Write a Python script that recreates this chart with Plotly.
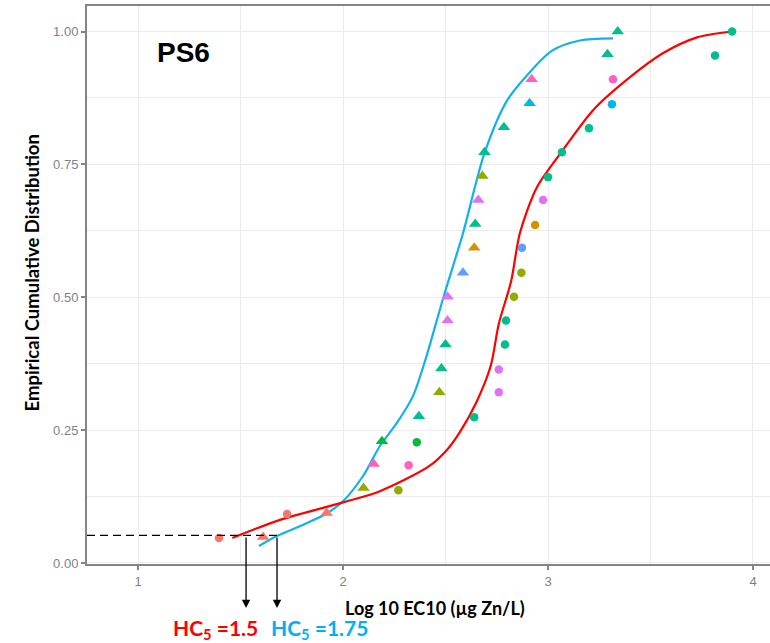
import plotly.graph_objects as go

# ---------------- data ----------------
palette = {
    "A": "#F8766D", "B": "#D39200", "C": "#93AA00", "D": "#00BA38", "E": "#00BF8C",
    "F": "#00B9E3", "G": "#619CFF", "H": "#DE72F5", "I": "#FF61C3",
}

tri_x = [1.61, 1.92, 2.10, 2.15, 2.19, 2.37, 2.47, 2.48, 2.50, 2.51, 2.51,
         2.585, 2.64, 2.645, 2.66, 2.68, 2.69, 2.785, 2.91, 2.92, 3.29, 3.34]
tri_y = [0.049, 0.094, 0.141, 0.186, 0.229, 0.276, 0.321, 0.366, 0.411, 0.456, 0.501,
         0.546, 0.593, 0.638, 0.683, 0.728, 0.773, 0.820, 0.865, 0.910, 0.957, 1.00]
tri_grp = ["A", "A", "C", "I", "D", "E", "C", "E", "E", "H", "H",
           "G", "B", "E", "H", "C", "E", "E", "F", "I", "E", "E"]

circ_x = [1.395, 1.727, 2.27, 2.32, 2.36, 2.64, 2.76, 2.76, 2.79, 2.795, 2.834,
          2.87, 2.873, 2.937, 2.976, 3.00, 3.068, 3.20, 3.312, 3.317, 3.815, 3.898]
circ_y = [0.047, 0.092, 0.137, 0.184, 0.227, 0.274, 0.321, 0.364, 0.411, 0.456, 0.501,
          0.546, 0.593, 0.636, 0.683, 0.726, 0.773, 0.818, 0.863, 0.910, 0.955, 1.00]
circ_grp = ["A", "A", "C", "I", "D", "E", "H", "H", "E", "E", "C",
            "C", "G", "B", "H", "E", "E", "E", "F", "I", "E", "E"]

blue_x = [1.59, 1.68, 1.80, 1.92, 2.00, 2.10, 2.18, 2.26, 2.34, 2.40, 2.49,
          2.585, 2.69, 2.80, 2.91, 3.02, 3.156, 3.317]
blue_y = [0.032, 0.051, 0.071, 0.093, 0.116, 0.165, 0.220, 0.262, 0.313, 0.38, 0.50,
          0.62, 0.771, 0.87, 0.923, 0.964, 0.983, 0.987]

red_x = [1.46, 1.70, 2.00, 2.18, 2.42, 2.51, 2.57, 2.65, 2.72, 2.76, 2.82,
         2.863, 2.946, 3.073, 3.22, 3.40, 3.56, 3.727, 3.898]
red_y = [0.047, 0.082, 0.114, 0.135, 0.182, 0.214, 0.246, 0.302, 0.370, 0.450, 0.530,
         0.621, 0.707, 0.777, 0.852, 0.914, 0.959, 0.989, 1.0]

x_ticks = [1, 2, 3, 4]
y_ticks = [0.00, 0.25, 0.50, 0.75, 1.00]
y_tick_text = ["0.00", "0.25", "0.50", "0.75", "1.00"]

hc5_level = 0.052
hc5_red = 1.527     # drawn arrow position for HC5 = 1.5
hc5_blue = 1.678    # drawn arrow position for HC5 = 1.75

RED = "#FF0000"
BLUE = "#14B0EE"
LABEL_BLUE = "#00B0F0"

fig = go.Figure()

fig.add_trace(go.Scatter(x=blue_x, y=blue_y, mode="lines",
                         line=dict(color=BLUE, width=2.2, shape="spline", smoothing=0.8),
                         showlegend=False, hoverinfo="skip"))
fig.add_trace(go.Scatter(x=red_x, y=red_y, mode="lines",
                         line=dict(color=RED, width=2.2, shape="spline", smoothing=0.8),
                         showlegend=False, hoverinfo="skip"))

fig.add_trace(go.Scatter(x=tri_x, y=tri_y, mode="markers",
                         marker=dict(symbol="triangle-up", size=11,
                                     color=[palette[g] for g in tri_grp], line=dict(width=0)),
                         showlegend=False))
fig.add_trace(go.Scatter(x=circ_x, y=circ_y, mode="markers",
                         marker=dict(symbol="circle", size=8.5,
                                     color=[palette[g] for g in circ_grp], line=dict(width=0)),
                         showlegend=False))

# dashed HC5 level line
fig.add_shape(type="line", xref="x", yref="y", x0=0.751, x1=hc5_blue, y0=hc5_level, y1=hc5_level,
              line=dict(color="black", width=1.3, dash="8px,5px"))

# arrows going down below the axis
for xv in (hc5_red, hc5_blue):
    fig.add_annotation(x=xv, y=-0.079, xref="x", yref="paper", text="",
                       showarrow=True, arrowhead=2, arrowsize=1.3, arrowwidth=1.3,
                       arrowcolor="black", ax=0, ay=-72)

fig.add_annotation(x=1.376, y=-0.117, xref="x", yref="paper",
                   text="HC<sub>5</sub> =1.5", showarrow=False,
                   font=dict(family="Lato", size=21, color=RED, weight="bold"),
                   xanchor="center", yanchor="middle")
fig.add_annotation(x=1.885, y=-0.117, xref="x", yref="paper",
                   text="HC<sub>5</sub> =1.75", showarrow=False,
                   font=dict(family="Lato", size=21, color=LABEL_BLUE, weight="bold"),
                   xanchor="center", yanchor="middle")

fig.add_annotation(x=2.45, y=-0.078, xref="x", yref="paper",
                   text="Log 10 EC10 (µg Zn/L)", showarrow=False,
                   font=dict(family="Lato", size=18, color="black", weight="bold"),
                   xanchor="center", yanchor="middle")
fig.add_annotation(x=-0.081, y=0.522, xref="paper", yref="paper",
                   text="Empirical Cumulative Distribution", showarrow=False, textangle=-90,
                   font=dict(family="Lato", size=18.5, color="black", weight="bold"),
                   xanchor="center", yanchor="middle")
fig.add_annotation(x=1.22, y=0.96, xref="x", yref="y", text="PS6", showarrow=False,
                   font=dict(family="Liberation Sans", size=28, color="black", weight="bold"),
                   xanchor="center", yanchor="middle")

axis_gray = "#858585"
grid = "#ebebeb"
fig.update_layout(
    width=770, height=643,
    margin=dict(l=87, r=0, t=6, b=79),
    plot_bgcolor="white", paper_bgcolor="white",
    xaxis=dict(range=[0.751, 4.083], tickvals=x_ticks, ticktext=[str(v) for v in x_ticks],
               showgrid=True, gridcolor=grid, gridwidth=1.2,
               minor=dict(dtick=0.5, tick0=0.5, showgrid=True, gridcolor=grid, gridwidth=1.2),
               zeroline=False, showline=True, linecolor=axis_gray, linewidth=2, mirror=True,
               ticks="outside", ticklen=4, tickwidth=1.5, tickcolor=axis_gray,
               tickfont=dict(family="Liberation Sans", size=13, color="#7f7f8a")),
    yaxis=dict(range=[-0.002, 1.048], tickvals=y_ticks, ticktext=y_tick_text,
               showgrid=True, gridcolor=grid, gridwidth=1.2,
               minor=dict(dtick=0.125, tick0=0.125, showgrid=True, gridcolor=grid, gridwidth=1.2),
               zeroline=False, showline=True, linecolor=axis_gray, linewidth=2,
               ticks="outside", ticklen=4, tickwidth=1.5, tickcolor=axis_gray,
               tickfont=dict(family="Liberation Sans", size=13, color="#7f7f8a")),
    showlegend=False,
)

fig.write_html("out.html")
